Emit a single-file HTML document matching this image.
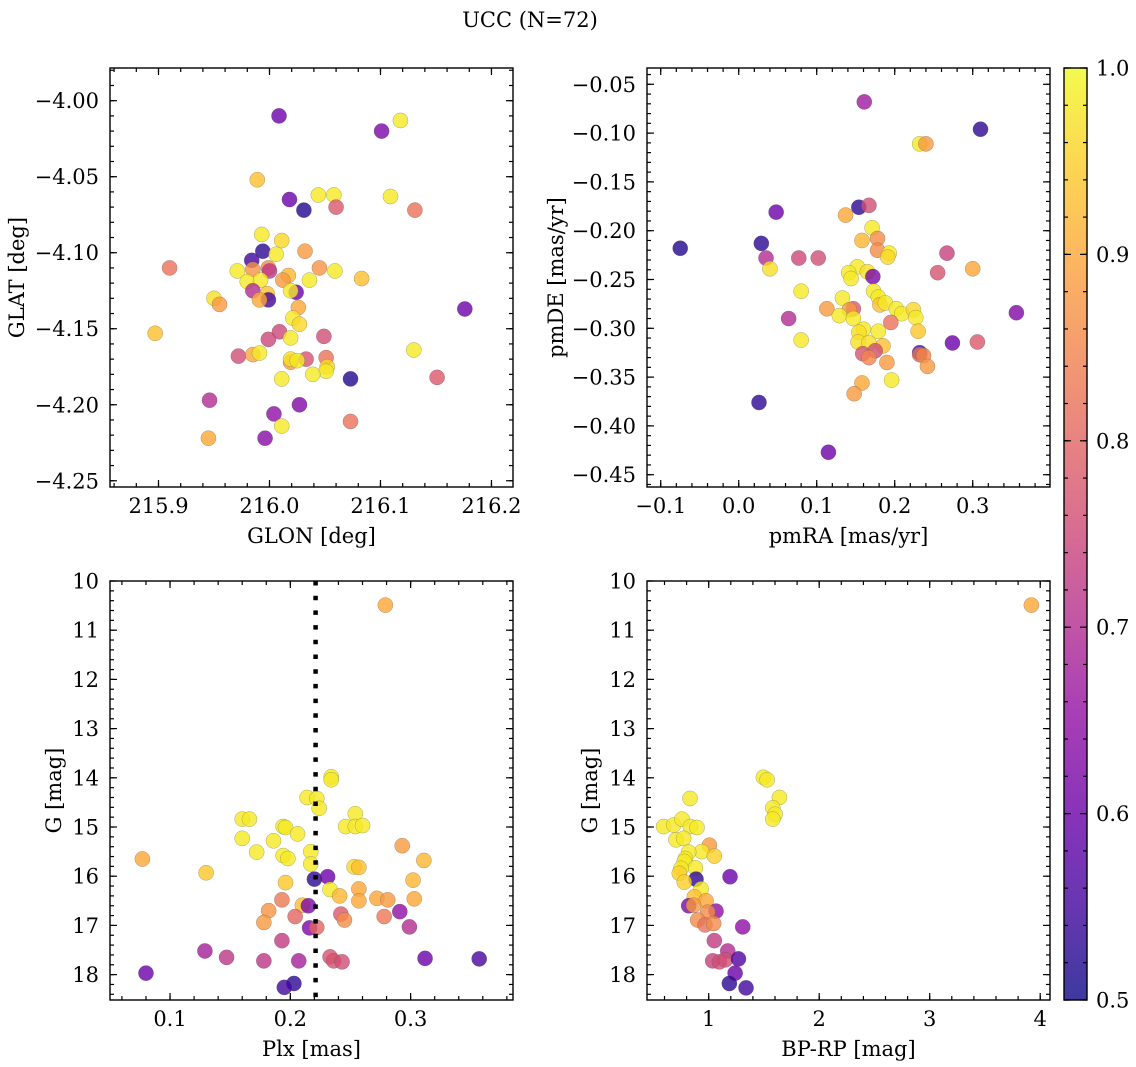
<!DOCTYPE html>
<html><head><meta charset="utf-8"><title>UCC (N=72)</title>
<style>
html,body{margin:0;padding:0;background:#fff;}
svg{display:block;font-family:"DejaVu Serif","Liberation Serif",serif;}
</style></head>
<body>
<svg id="fig" width="1136" height="1067" viewBox="0 0 1136 1067" xmlns="http://www.w3.org/2000/svg">
<text x="530" y="27" font-size="21" text-anchor="middle">UCC (N=72)</text>
</svg>
<script>
// ---- Panel 1: GLON / GLAT ----
const glon = [216.0086,216.101,216.118,215.989,216.018,216.031,216.044,216.058,216.060,216.109,216.131,215.993,216.011,215.994,215.984,216.006,216.032,215.910,215.971,215.985,215.999,216.000,216.045,216.059,216.017,216.012,215.980,215.992,216.036,216.083,215.985,216.024,216.019,215.998,215.999,215.991,215.950,215.955,216.176,216.026,216.021,216.027,215.897,216.009,216.019,216.049,215.999,216.130,215.972,215.985,215.991,216.033,216.019,216.019,216.025,216.051,216.052,216.051,216.039,216.011,216.073,216.151,215.946,216.027,216.004,216.011,216.073,215.945,215.996];
const glat = [-4.010,-4.020,-4.013,-4.052,-4.065,-4.072,-4.062,-4.062,-4.070,-4.063,-4.072,-4.088,-4.092,-4.099,-4.105,-4.101,-4.099,-4.110,-4.112,-4.111,-4.110,-4.112,-4.110,-4.112,-4.115,-4.118,-4.119,-4.118,-4.118,-4.117,-4.125,-4.126,-4.125,-4.127,-4.131,-4.131,-4.130,-4.134,-4.137,-4.136,-4.143,-4.147,-4.153,-4.152,-4.156,-4.155,-4.157,-4.164,-4.168,-4.167,-4.166,-4.170,-4.172,-4.170,-4.171,-4.169,-4.175,-4.178,-4.180,-4.183,-4.183,-4.182,-4.197,-4.200,-4.206,-4.214,-4.211,-4.222,-4.222];
const prob1 = [0.6,0.62,0.98,0.93,0.6,0.52,0.98,0.98,0.78,0.98,0.82,0.98,0.96,0.53,0.55,0.98,0.88,0.82,0.98,0.87,0.86,0.72,0.87,0.98,0.92,0.88,0.98,0.98,0.98,0.93,0.7,0.6,0.98,0.93,0.55,0.9,0.97,0.88,0.6,0.9,0.98,0.96,0.93,0.75,0.98,0.76,0.75,0.98,0.76,0.9,0.98,0.77,0.88,0.97,0.98,0.82,0.96,0.98,0.98,0.98,0.52,0.78,0.7,0.63,0.65,0.98,0.82,0.9,0.64];
// ---- Panel 2: pmRA / pmDE ----
const pmra = [0.161,0.310,0.232,0.240,0.048,0.154,0.167,0.137,0.171,0.158,0.178,-0.075,0.029,0.178,0.193,0.191,0.035,0.077,0.102,0.267,0.040,0.300,0.255,0.152,0.141,0.165,0.172,0.144,0.080,0.173,0.179,0.133,0.181,0.188,0.202,0.209,0.224,0.227,0.113,0.147,0.142,0.129,0.147,0.356,0.064,0.195,0.230,0.160,0.154,0.179,0.080,0.153,0.167,0.274,0.306,0.185,0.159,0.175,0.167,0.232,0.232,0.237,0.242,0.190,0.158,0.196,0.148,0.026,0.115];
const pmde = [-0.068,-0.096,-0.111,-0.111,-0.181,-0.176,-0.174,-0.184,-0.197,-0.210,-0.208,-0.218,-0.213,-0.220,-0.223,-0.227,-0.228,-0.228,-0.228,-0.223,-0.239,-0.239,-0.243,-0.237,-0.243,-0.242,-0.247,-0.249,-0.262,-0.262,-0.268,-0.269,-0.276,-0.274,-0.280,-0.285,-0.281,-0.289,-0.280,-0.280,-0.281,-0.287,-0.290,-0.284,-0.290,-0.294,-0.303,-0.301,-0.304,-0.303,-0.312,-0.314,-0.315,-0.315,-0.314,-0.318,-0.326,-0.323,-0.330,-0.325,-0.327,-0.328,-0.339,-0.335,-0.356,-0.353,-0.367,-0.376,-0.427];
const prob2 = [0.67,0.53,0.98,0.88,0.6,0.53,0.76,0.9,0.98,0.92,0.86,0.52,0.53,0.86,0.98,0.96,0.7,0.75,0.76,0.74,0.97,0.9,0.77,0.98,0.98,0.97,0.62,0.98,0.98,0.98,0.98,0.98,0.93,0.98,0.98,0.98,0.96,0.98,0.88,0.78,0.88,0.98,0.98,0.63,0.7,0.82,0.94,0.98,0.97,0.98,0.98,0.97,0.97,0.6,0.78,0.93,0.77,0.76,0.85,0.55,0.82,0.85,0.88,0.88,0.9,0.98,0.88,0.53,0.6];
// ---- Panel 3: Plx / G ----
const plx = [0.279,0.234,0.234,0.214,0.222,0.224,0.160,0.166,0.254,0.246,0.254,0.260,0.194,0.196,0.206,0.160,0.186,0.293,0.172,0.194,0.198,0.217,0.077,0.311,0.217,0.130,0.253,0.257,0.220,0.231,0.302,0.196,0.233,0.257,0.241,0.193,0.257,0.272,0.281,0.303,0.210,0.215,0.182,0.291,0.242,0.245,0.204,0.278,0.178,0.216,0.222,0.299,0.193,0.129,0.147,0.178,0.207,0.233,0.236,0.243,0.312,0.357,0.080,0.203,0.195];
const gmag3 = [10.49,13.98,14.04,14.40,14.42,14.62,14.84,14.84,14.73,14.99,14.99,14.97,14.99,15.01,15.14,15.23,15.28,15.38,15.51,15.58,15.64,15.50,15.65,15.68,15.75,15.93,15.81,15.82,16.06,16.01,16.08,16.13,16.27,16.26,16.40,16.48,16.50,16.45,16.48,16.46,16.59,16.60,16.70,16.72,16.77,16.89,16.82,16.82,16.94,17.05,17.04,17.03,17.31,17.52,17.65,17.72,17.72,17.64,17.72,17.74,17.67,17.68,17.97,18.18,18.26];
const prob3 = [0.9,0.98,0.98,0.98,0.98,0.98,0.98,0.98,0.98,0.98,0.98,0.98,0.98,0.98,0.98,0.98,0.98,0.88,0.98,0.98,0.98,0.98,0.9,0.92,0.98,0.94,0.96,0.93,0.53,0.6,0.92,0.94,0.98,0.9,0.92,0.83,0.9,0.9,0.88,0.9,0.93,0.62,0.87,0.65,0.78,0.86,0.8,0.83,0.88,0.62,0.8,0.7,0.73,0.68,0.72,0.72,0.68,0.77,0.77,0.76,0.6,0.56,0.6,0.53,0.55];
const plxLine = [0.221];
// ---- Panel 4: BP-RP / G ----
const bprp = [3.92,1.495,1.529,1.640,1.580,1.601,1.580,0.831,0.592,0.683,0.758,0.834,0.894,0.704,0.773,1.006,0.937,1.051,0.819,0.789,0.779,0.879,0.749,0.734,1.193,0.885,0.779,0.931,0.870,0.976,0.819,0.864,1.066,0.991,0.900,0.967,1.045,1.308,1.051,1.172,1.036,1.097,1.151,1.269,1.239,1.187,1.338];
const gmag4 = [10.49,13.99,14.04,14.40,14.61,14.74,14.84,14.42,14.99,14.96,14.84,14.99,15.01,15.26,15.23,15.37,15.50,15.59,15.51,15.64,15.70,15.83,15.84,15.94,16.01,16.06,16.12,16.26,16.42,16.50,16.60,16.59,16.71,16.73,16.89,16.99,16.96,17.03,17.31,17.52,17.72,17.74,17.70,17.68,17.97,18.18,18.27];
const prob4 = [0.9,0.98,0.98,0.98,0.98,0.98,0.98,0.98,0.98,0.98,0.98,0.98,0.98,0.98,0.98,0.88,0.98,0.95,0.98,0.98,0.98,0.98,0.98,0.95,0.6,0.53,0.95,0.98,0.93,0.9,0.62,0.88,0.65,0.86,0.86,0.82,0.86,0.65,0.73,0.7,0.74,0.76,0.76,0.57,0.6,0.53,0.55];
// ---- Colorbar ----
const cbarTicks = [0.5,0.6,0.7,0.8,0.9,1.0];

const NS = "http://www.w3.org/2000/svg";
const svg = document.getElementById('fig');
const FS = 21;
function mk(tag, attrs, parent){const e=document.createElementNS(NS,tag);for(const k in attrs)e.setAttribute(k,attrs[k]);(parent||svg).appendChild(e);return e;}
const stops=[[0,[13,8,135]],[0.1,[65,4,157]],[0.2,[106,0,168]],[0.3,[143,13,164]],[0.4,[177,42,144]],[0.5,[204,71,120]],[0.6,[225,100,98]],[0.7,[242,132,75]],[0.8,[252,166,54]],[0.9,[252,206,37]],[1,[240,249,33]]];
function plasma(t){t=Math.max(0,Math.min(1,t));for(let i=1;i<stops.length;i++){if(t<=stops[i][0]){const a=stops[i-1],b=stops[i];const f=(t-a[0])/(b[0]-a[0]);return 'rgb('+a[1].map((v,j)=>Math.round(v+(b[1][j]-v)*f)).join(',')+')';}}return 'rgb(240,249,33)';}
function cmap(p){return plasma((p-0.5)/0.5);}
function lin(d0,d1,r0,r1){return v=>r0+(v-d0)/(d1-d0)*(r1-r0);}
function fmt(v,dec){const s=Math.abs(v).toFixed(dec);return (v<-1e-9?'\u2212':'')+s;}
function range(a,b,s){const r=[];const n=Math.round((b-a)/s);for(let i=0;i<=n;i++)r.push(a+i*s);return r;}

function panel(cfg){
  const g=mk('g',{});
  
  
  const {x0,x1,y0,y1}=cfg;
  const xs=lin(cfg.xd[0],cfg.xd[1],x0,x1), ys=lin(cfg.yd[0],cfg.yd[1],y0,y1);
  const pts=mk('g',{},g);
  
  
  for(let i=0;i<cfg.xv.length;i++){
    const c=mk('circle',{cx:xs(cfg.xv[i]).toFixed(2),cy:ys(cfg.yv[i]).toFixed(2),r:7.6,fill:cmap(cfg.pv[i]),'fill-opacity':0.8,stroke:'#555','stroke-width':0.4,'stroke-opacity':0.6},pts);
    
    
  }
  if(cfg.vline){
    const vx=xs(cfg.vline[0]);
    const l=mk('line',{x1:vx,x2:vx,y1:y0,y2:y1,stroke:'#000','stroke-width':4.5,'stroke-dasharray':'4.5 10.2'},g);
    
    
  }
  const tk=mk('g',{stroke:'#000','stroke-width':1.2},g);
  
  
  const inside=(v,a,b)=>v>=Math.min(a,b)-0.5&&v<=Math.max(a,b)+0.5;
  cfg.xminor.forEach(v=>{const X=xs(v);if(!inside(X,x0,x1))return;mk('line',{x1:X,x2:X,y1:y1,y2:y1-4},tk);mk('line',{x1:X,x2:X,y1:y0,y2:y0+4},tk);});
  cfg.yminor.forEach(v=>{const Y=ys(v);if(!inside(Y,y0,y1))return;mk('line',{x1:x0,x2:x0+4,y1:Y,y2:Y},tk);mk('line',{x1:x1,x2:x1-4,y1:Y,y2:Y},tk);});
  cfg.xmajor.forEach(v=>{const X=xs(v);mk('line',{x1:X,x2:X,y1:y1,y2:y1-7},tk);mk('line',{x1:X,x2:X,y1:y0,y2:y0+7},tk);
    const t=mk('text',{x:X,y:y1+26,'font-size':FS,'text-anchor':'middle',stroke:'none'},g);t.textContent=fmt(v,cfg.xdec);
    });
  cfg.ymajor.forEach(v=>{const Y=ys(v);mk('line',{x1:x0,x2:x0+7,y1:Y,y2:Y},tk);mk('line',{x1:x1,x2:x1-7,y1:Y,y2:Y},tk);
    const t=mk('text',{x:x0-11,y:Y+7.5,'font-size':FS,'text-anchor':'end'},g);t.textContent=fmt(v,cfg.ydec);
    });
  const fr=mk('rect',{x:x0,y:y0,width:x1-x0,height:y1-y0,fill:'none',stroke:'#000','stroke-width':1.4},g);
  
  const xl=mk('text',{x:(x0+x1)/2,y:y1+56,'font-size':FS,'text-anchor':'middle'},g);xl.textContent=cfg.xlabel;
  
  const yl=mk('text',{x:0,y:0,'font-size':FS,'text-anchor':'middle',transform:'translate('+cfg.ylx+','+((y0+y1)/2)+') rotate(-90)'},g);yl.textContent=cfg.ylabel;
  
}

panel({name:'glon-glat-panel',x0:110,x1:513,y0:68,y1:487,xd:[215.8563,216.2194],yd:[-3.9785,-4.2541],xv:glon,yv:glat,pv:prob1,
  xmajor:range(215.9,216.2,0.1),xminor:range(215.86,216.22,0.02),ymajor:range(-4.25,-4.0,0.05),yminor:range(-4.25,-3.98,0.01),xdec:1,ydec:2,xlabel:'GLON [deg]',ylabel:'GLAT [deg]',ylx:24});
panel({name:'proper-motion-panel',x0:647,x1:1050,y0:68,y1:487,xd:[-0.1176,0.3991],yd:[-0.0333,-0.4626],xv:pmra,yv:pmde,pv:prob2,
  xmajor:range(-0.1,0.3,0.1),xminor:range(-0.1,0.38,0.02),ymajor:range(-0.45,-0.05,0.05),yminor:range(-0.46,-0.04,0.01),xdec:1,ydec:2,xlabel:'pmRA [mas/yr]',ylabel:'pmDE [mas/yr]',ylx:563});
panel({name:'parallax-magnitude-panel',x0:110,x1:513,y0:581,y1:1000,xd:[0.0501,0.3851],yd:[10,18.516],xv:plx,yv:gmag3,pv:prob3,vline:plxLine,
  xmajor:range(0.1,0.3,0.1),xminor:range(0.06,0.38,0.02),ymajor:range(10,18,1),yminor:range(10,18.4,0.2),xdec:1,ydec:0,xlabel:'Plx [mas]',ylabel:'G [mag]',ylx:61});
panel({name:'color-magnitude-panel',x0:647,x1:1050,y0:581,y1:1000,xd:[0.4416,4.0887],yd:[10,18.516],xv:bprp,yv:gmag4,pv:prob4,
  xmajor:range(1,4,1),xminor:range(0.6,4.0,0.2),ymajor:range(10,18,1),yminor:range(10,18.4,0.2),xdec:0,ydec:0,xlabel:'BP-RP [mag]',ylabel:'G [mag]',ylx:597});

(function(){
  const cx0=1064,cx1=1087,cy0=68,cy1=1000;
  const g=mk('g',{});
  
  
  const defs=mk('defs',{},g);
  const lg=mk('linearGradient',{id:'cbg',x1:0,y1:1,x2:0,y2:0},defs);
  for(let i=0;i<=20;i++){mk('stop',{offset:(i/20),'stop-color':plasma(i/20)},lg);}
  const r=mk('rect',{x:cx0,y:cy0,width:cx1-cx0,height:cy1-cy0,fill:'url(#cbg)','fill-opacity':0.8,stroke:'#000','stroke-width':1.4},g);
  
  const ys=lin(0.5,1.0,cy1,cy0);
  range(0.5,1.0,0.02).forEach(v=>{const Y=ys(v);mk('line',{x1:cx1,x2:cx1-4,y1:Y,y2:Y,stroke:'#000','stroke-width':1.2},g);mk('line',{x1:cx0,x2:cx0+4,y1:Y,y2:Y,stroke:'#000','stroke-width':1.2},g);});
  cbarTicks.forEach(v=>{const Y=ys(v);mk('line',{x1:cx1,x2:cx1-7,y1:Y,y2:Y,stroke:'#000','stroke-width':1.2},g);mk('line',{x1:cx0,x2:cx0+7,y1:Y,y2:Y,stroke:'#000','stroke-width':1.2},g);
    const t=mk('text',{x:cx1+9,y:Y+7.5,'font-size':FS},g);t.textContent=v.toFixed(1);
    });
})();
</script>
</body></html>
